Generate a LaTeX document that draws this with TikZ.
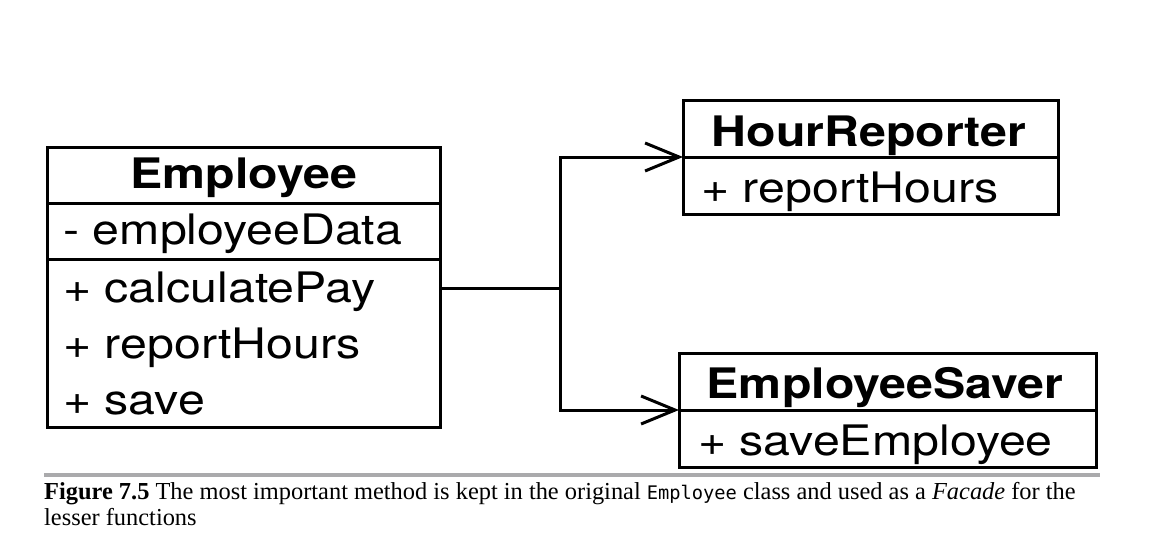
\documentclass[tikz,border=0pt]{standalone}
\usepackage{fontspec}
\setmainfont{Liberation Serif}
\setmonofont{DejaVu Sans Mono}
\newfontfamily\umlfont[FakeStretch=1.15]{TeX Gyre Heros}
\usetikzlibrary{arrows.meta}
\begin{document}
\begin{tikzpicture}[x=1pt,y=-1pt,
  compartment/.style={draw, line width=3pt, rectangle, anchor=north west,
    inner sep=0pt, outer sep=0pt},
  umltext/.style={inner sep=0pt, font=\umlfont\fontsize{42}{48}\selectfont},
  classname/.style={umltext, anchor=base, font=\umlfont\bfseries\fontsize{42}{48}\selectfont},
  member/.style={umltext, anchor=base west},
  conn/.style={line width=3pt, line join=miter},
  uses/.style={conn, -{Straight Barb[length=34pt,width=28pt,line width=3pt]}},
  captiontext/.style={inner sep=0pt, anchor=base west, font=\fontsize{24.4}{26}\selectfont}]
\useasboundingbox (0,0) rectangle (1154,554);

% Employee class
\node[compartment, minimum width=393pt, minimum height=56pt] (empN) at (47,147) {};
\node[compartment, minimum width=393pt, minimum height=56pt] (empA) at (47,203) {};
\node[compartment, minimum width=393pt, minimum height=168pt] (empO) at (47,259) {};
\node[classname] (empT) at (243.5,188) {Employee};
\node[member] (empA1) at (63,244) {- employeeData};
\node[member] (empO1) at (63,302) {+ calculatePay};
\node[member] (empO2) at (63,358) {+ reportHours};
\node[member] (empO3) at (63,414) {+ save};

% HourReporter class
\node[compartment, minimum width=375pt, minimum height=57pt] (hrN) at (683,100) {};
\node[compartment, minimum width=375pt, minimum height=57pt] (hrO) at (683,157) {};
\node[classname] (hrT) at (869,146) {HourReporter};
\node[member] (hrO1) at (701,202) {+ reportHours};

% EmployeeSaver class
\node[compartment, minimum width=417pt, minimum height=57pt] (esN) at (679,353) {};
\node[compartment, minimum width=417pt, minimum height=57pt] (esO) at (679,410) {};
\node[classname] (esT) at (885,398) {EmployeeSaver};
\node[member] (esO1) at (698,455) {+ saveEmployee};

% connectors
\coordinate (jn) at (560,288);
\draw[conn] (empO.east |- jn) -- (jn);
\draw[uses] (jn) |- (hrN.south west);
\draw[uses] (jn) |- (esN.south west);

% caption
\draw[line width=4pt, color={rgb,255:red,170;green,170;blue,172}] (44,475) -- (1100,475);
\node[captiontext] (cap1) at (44,499) {\textbf{Figure 7.5} The most important method is kept in the original {\ttfamily\fontsize{18.7}{22}\selectfont Employee} class and used as a \textit{Facade} for the};
\node[captiontext] (cap2) at (44,525) {lesser functions};
\end{tikzpicture}
\end{document}
